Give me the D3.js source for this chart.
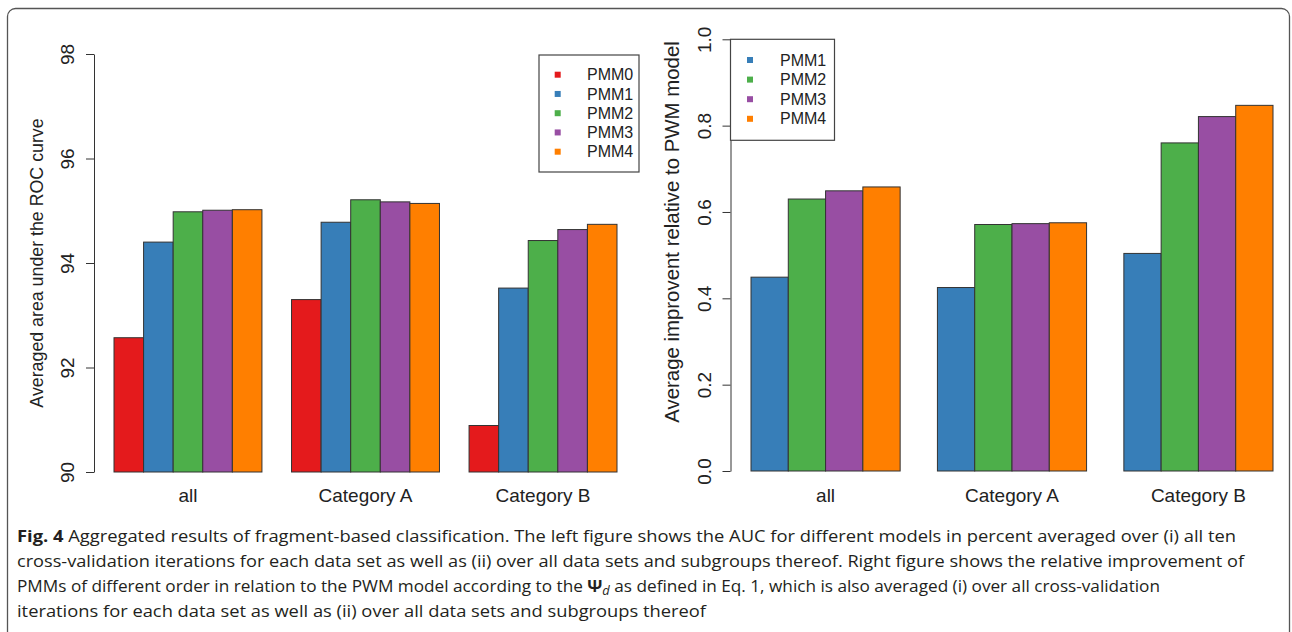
<!DOCTYPE html>
<html><head><meta charset="utf-8">
<script src="https://cdnjs.cloudflare.com/ajax/libs/d3/7.8.5/d3.min.js"></script>
<style>
html,body{margin:0;padding:0;background:#fff;}
svg{display:block;}
</style></head>
<body>
<svg id="chart" width="1292" height="632"></svg>
<script>
// ---------- data ----------
const categories = ["all", "Category A", "Category B"];
const leftSeries = ["PMM0", "PMM1", "PMM2", "PMM3", "PMM4"];
const rightSeries = ["PMM1", "PMM2", "PMM3", "PMM4"];
const aucPMM0 = [92.57, 93.30, 90.89];
const aucPMM1 = [94.40, 94.78, 93.52];
const aucPMM2 = [94.98, 95.21, 94.43];
const aucPMM3 = [95.01, 95.17, 94.64];
const aucPMM4 = [95.02, 95.14, 94.74];
const impPMM1 = [0.449, 0.425, 0.504];
const impPMM2 = [0.630, 0.571, 0.760];
const impPMM3 = [0.649, 0.573, 0.821];
const impPMM4 = [0.658, 0.575, 0.847];
const leftTicks = [90, 92, 94, 96, 98];
const rightTicks = [0.0, 0.2, 0.4, 0.6, 0.8, 1.0];
const leftTitle = "Averaged area under the ROC curve";
const rightTitle = "Average improvent relative to PWM model";
const seriesColors = {PMM0: "#E41A1C", PMM1: "#377EB8", PMM2: "#4DAF4A", PMM3: "#984EA3", PMM4: "#FF7F00"};
const captionLines = [
  [{t: "Fig. 4", b: true}, {t: " Aggregated results of fragment-based classification. The left figure shows the AUC for different models in percent averaged over (i) all ten"}],
  [{t: "cross-validation iterations for each data set as well as (ii) over all data sets and subgroups thereof. Right figure shows the relative improvement of"}],
  [{t: "PMMs of different order in relation to the PWM model according to the "}, {t: "Ψ", b: true}, {t: "d", i: true, sub: true}, {t: " as defined in Eq. 1, which is also averaged (i) over all cross-validation"}],
  [{t: "iterations for each data set as well as (ii) over all data sets and subgroups thereof"}]
];

const leftValues = {PMM0: aucPMM0, PMM1: aucPMM1, PMM2: aucPMM2, PMM3: aucPMM3, PMM4: aucPMM4};
const rightValues = {PMM1: impPMM1, PMM2: impPMM2, PMM3: impPMM3, PMM4: impPMM4};

const svg = d3.select("#chart");
const axisFont = "'Liberation Sans', Arial, Helvetica, sans-serif";

// frame
svg.append("rect").attr("x", 7.5).attr("y", 8.5).attr("width", 1282).attr("height", 700)
  .attr("rx", 8).attr("fill", "none").attr("stroke", "#555").attr("stroke-width", 1.3);

function panel(opt) {
  const g = svg.append("g");
  const y = d3.scaleLinear().domain(opt.yDomain).range(opt.yRange);
  const x0 = d3.scaleBand().domain(categories).range(opt.xRange).paddingInner(opt.padInner).paddingOuter(0);
  const x1 = d3.scaleBand().domain(opt.series).range([0, x0.bandwidth()]).padding(0);
  const base = y(opt.yDomain[0]);

  const groups = g.selectAll("g.grp").data(categories).join("g")
    .attr("transform", c => `translate(${x0(c)},0)`);
  groups.selectAll("rect").data((c, ci) => opt.series.map(s => ({s, v: opt.values[s][ci]})))
    .join("rect")
    .attr("x", d => x1(d.s)).attr("width", x1.bandwidth())
    .attr("y", d => y(d.v)).attr("height", d => base - y(d.v))
    .attr("fill", d => seriesColors[d.s]).attr("stroke", "#333").attr("stroke-width", 1);

  // y axis
  const ax = g.append("g").attr("transform", `translate(${opt.axisX},0)`)
    .call(d3.axisLeft(y).tickValues(opt.ticks).tickSize(8).tickSizeOuter(0).tickFormat(opt.fmt));
  ax.select(".domain").attr("stroke", "#333");
  ax.selectAll(".tick line").attr("stroke", "#333");
  ax.selectAll(".tick text")
    .attr("transform", "rotate(-90)").attr("x", 0).attr("y", opt.labelOff).attr("dy", "0.35em")
    .attr("text-anchor", "middle").attr("font-family", axisFont).attr("font-size", 19).attr("fill", "#222");

  // y title
  g.append("text").attr("transform", `translate(${opt.titleX},${opt.titleY}) rotate(-90)`)
    .attr("text-anchor", "middle").attr("dy", "0.35em")
    .attr("font-family", axisFont).attr("font-size", opt.titleSize).attr("fill", "#222").text(opt.title);

  // x labels
  g.selectAll("text.xl").data(categories).join("text").attr("class", "xl")
    .attr("x", c => x0(c) + x0.bandwidth() / 2).attr("y", 495).attr("dy", "0.35em")
    .attr("text-anchor", "middle").attr("font-family", axisFont).attr("font-size", 19).attr("fill", "#222")
    .text(c => c);

  // legend
  const L = opt.legend;
  const lg = g.append("g");
  lg.append("rect").attr("x", L.x).attr("y", L.y).attr("width", L.w).attr("height", L.h)
    .attr("fill", "#fff").attr("stroke", "#444").attr("stroke-width", 1.2);
  const items = lg.selectAll("g.li").data(opt.series).join("g")
    .attr("transform", (s, i) => `translate(0,${L.first + i * L.step})`);
  items.append("rect").attr("x", L.sx - 3).attr("y", -3).attr("width", 6).attr("height", 6)
    .attr("fill", s => seriesColors[s]);
  items.append("text").attr("x", L.tx).attr("y", 0).attr("dy", "0.35em")
    .attr("font-family", axisFont).attr("font-size", 16).attr("fill", "#222").text(s => s);
}

panel({
  yDomain: [90, 98], yRange: [472, 54], xRange: [114, 617], padInner: 1 / 6,
  series: leftSeries, values: leftValues, axisX: 94, ticks: leftTicks, fmt: d3.format("d"),
  labelOff: -27, titleX: 37, titleY: 263, titleSize: 17.8, title: leftTitle,
  legend: {x: 539, y: 55, w: 100, h: 117, first: 74.7, step: 19.25, sx: 557.7, tx: 587}
});
panel({
  yDomain: [0, 1], yRange: [471, 39.3], xRange: [751, 1273], padInner: 0.2,
  series: rightSeries, values: rightValues, axisX: 730.5, ticks: rightTicks, fmt: d3.format(".1f"),
  labelOff: -26, titleX: 672, titleY: 232, titleSize: 20.4, title: rightTitle,
  legend: {x: 730.5, y: 39.3, w: 104, h: 101, first: 60, step: 19.6, sx: 750, tx: 780}
});

// caption
const capEnds = [1236, 1244, 1160, 706];
const capBase = [542, 567, 592, 617];
captionLines.forEach((parts, li) => {
  const t = svg.append("text").attr("x", 17).attr("y", capBase[li])
    .attr("font-family", "'Open Sans', 'Noto Sans', sans-serif").attr("font-size", 16).attr("fill", "#231f20");
  parts.forEach(p => {
    const ts = t.append("tspan").text(p.t);
    if (p.b) ts.attr("font-weight", "bold");
    if (p.i) ts.attr("font-style", "italic");
    if (p.sub) ts.attr("baseline-shift", "-25%").attr("font-size", 12);
  });
  t.attr("textLength", capEnds[li] - 17).attr("lengthAdjust", "spacingAndGlyphs");
});
</script>
</body></html>
